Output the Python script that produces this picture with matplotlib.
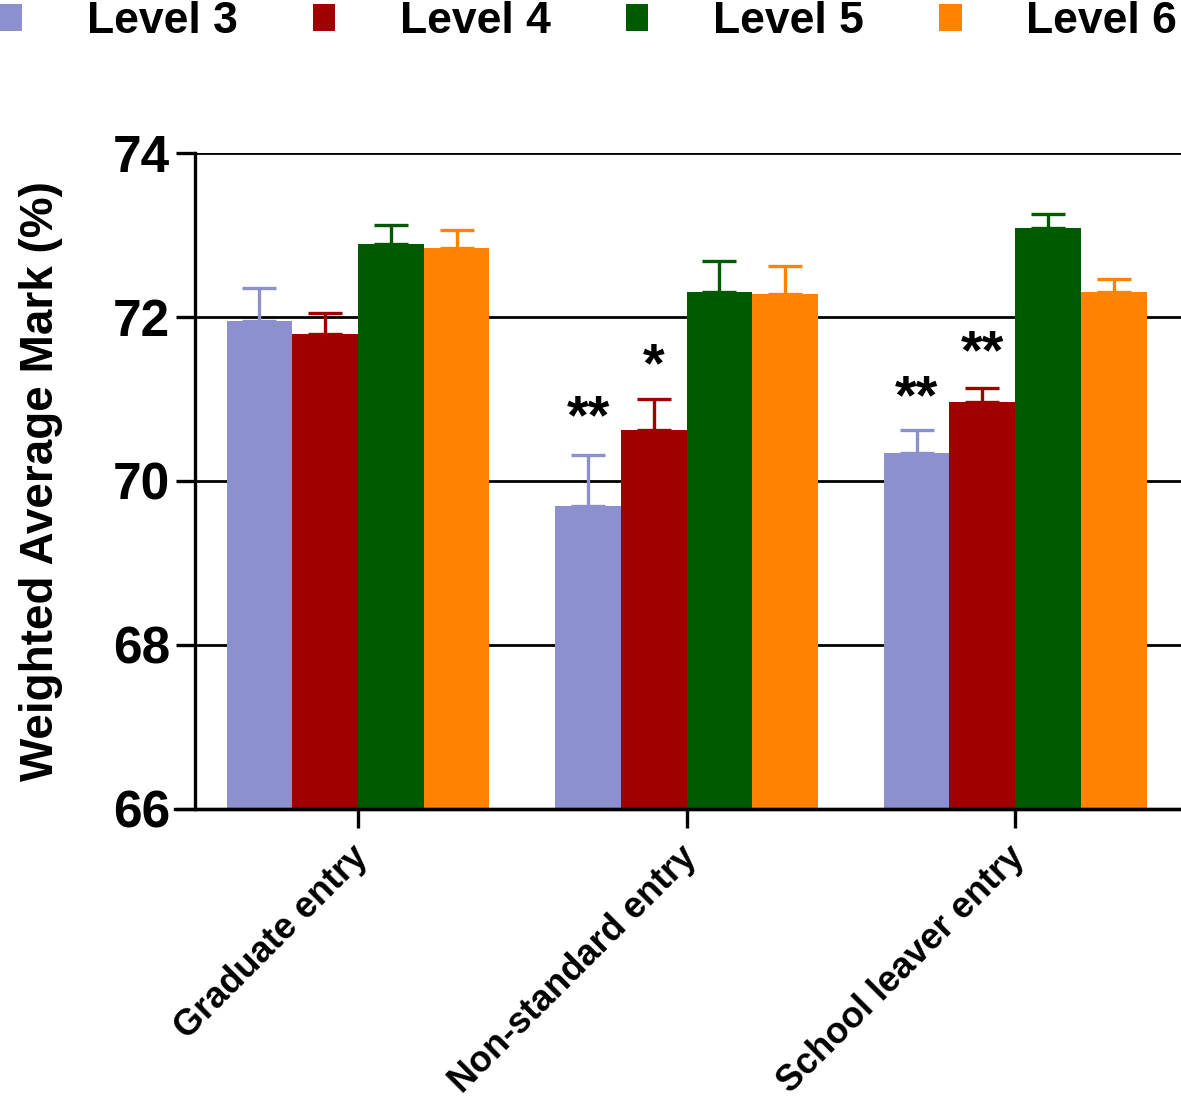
import matplotlib
matplotlib.use("Agg")
import matplotlib.pyplot as plt
from matplotlib.patches import Patch
from matplotlib.lines import Line2D
from matplotlib.transforms import ScaledTranslation
import numpy as np

plt.rcParams['font.family'] = ['Liberation Sans', 'DejaVu Sans']
plt.rcParams['font.weight'] = 'bold'

categories = ["Graduate entry", "Non-standard entry", "School leaver entry"]
levels = ["Level 3", "Level 4", "Level 5", "Level 6"]
colors = ["#8C90CC", "#A00000", "#005A00", "#FF8200"]

means = {
    "Level 3": [71.95, 69.70, 70.34],
    "Level 4": [71.79, 70.62, 70.96],
    "Level 5": [72.89, 72.30, 73.09],
    "Level 6": [72.84, 72.28, 72.30],
}
errors = {
    "Level 3": [0.40, 0.62, 0.28],
    "Level 4": [0.26, 0.38, 0.17],
    "Level 5": [0.23, 0.38, 0.17],
    "Level 6": [0.22, 0.34, 0.16],
}
# (category index, level index, label, y position)
sig_marks = [
    (1, 0, "**", 70.88),
    (1, 1, "*", 71.52),
    (2, 0, "**", 71.13),
    (2, 1, "**", 71.68),
]
yticks = [66, 68, 70, 72, 74]

fig = plt.figure(figsize=(11.81, 10.98), dpi=100)
ax = fig.add_axes([195/1181, 1-809/1098, 1-195/1181, (809-153)/1098])

x = np.arange(len(categories))
width = 0.2
offsets = [-1.5, -0.5, 0.5, 1.5]

for y in [68, 70, 72, 74]:
    ax.axhline(y, color="black", lw=2, zorder=0.5)

for i, lev in enumerate(levels):
    pos = x + offsets[i]*width
    ax.bar(pos, np.array(means[lev]) - 66, width, bottom=66, color=colors[i],
           edgecolor="none", zorder=2)
    ax.errorbar(pos, means[lev], yerr=[np.zeros(3), errors[lev]], fmt="none",
                ecolor=colors[i], elinewidth=2.4, capsize=12, capthick=2.4, zorder=1.5)

for ci, li, lab, yy in sig_marks:
    ax.text(x[ci] + offsets[li]*width, yy - 0.13, lab, ha="center", va="center",
            fontsize=40, fontweight="bold")

ax.set_xlim(-0.496, 2.505)
ax.set_ylim(66, 74)
ax.set_yticks(yticks)
ax.set_yticklabels([str(t) for t in yticks], fontsize=37, fontweight="bold")
ax.set_xticks(x)
ax.set_xticklabels(categories, rotation=45, ha="right", rotation_mode="anchor",
                   fontsize=26, fontweight="bold")
ax.tick_params(axis="y", length=14, width=2.4, pad=4)
ax.tick_params(axis="x", length=14, width=2.4, pad=12)
shift = ScaledTranslation(-0.08, 0.06, fig.dpi_scale_trans)
for lab in ax.get_xticklabels():
    lab.set_transform(lab.get_transform() + shift)
for s in ["top", "right"]:
    ax.spines[s].set_visible(False)
ax.spines["left"].set_linewidth(2.4)
ax.spines["bottom"].set_linewidth(2.4)
ax.add_line(Line2D([-0.02, 1], [0, 0], transform=ax.transAxes, color="black",
                   lw=2.4, clip_on=False))
ax.set_ylabel("Weighted Average Mark (%)", fontsize=33, fontweight="bold", labelpad=36)

handles = [Patch(facecolor=c, edgecolor="none") for c in colors]
fig.legend(handles, levels, loc="upper left", bbox_to_anchor=(0.0, 0.999),
           ncol=4, frameon=False, handlelength=0.5, handleheight=0.56,
           handletextpad=1.45, columnspacing=1.7, borderpad=0, borderaxespad=0,
           prop={"weight": "bold", "size": 32})

fig.savefig("out.png", dpi=100)
